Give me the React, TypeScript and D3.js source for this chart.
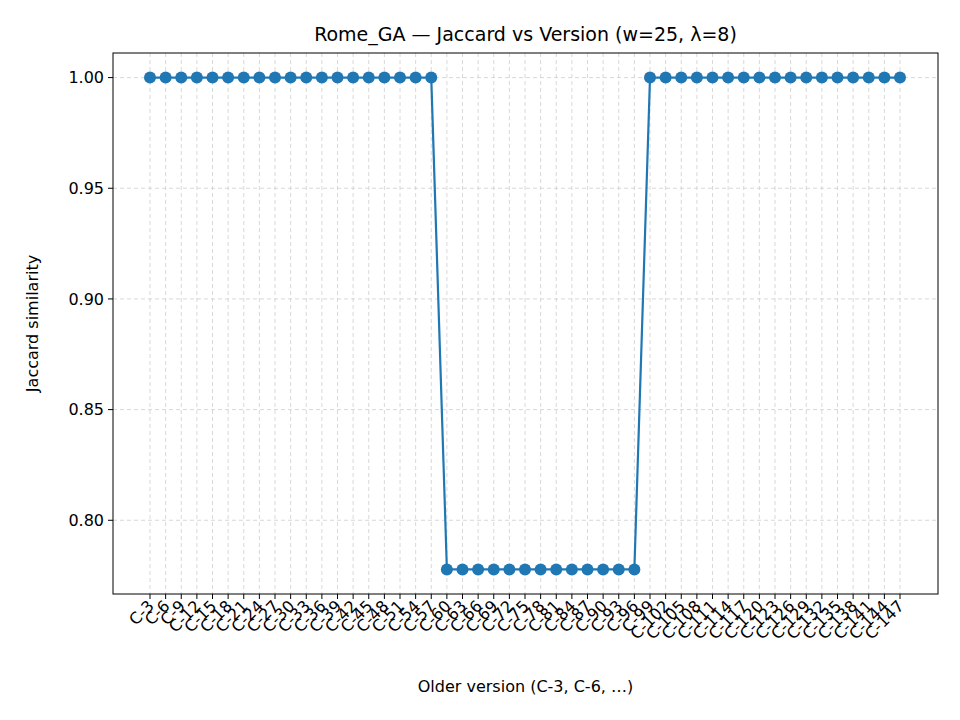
import * as d3 from 'd3';

const versions: string[] = d3.range(3, 148, 3).map((v) => `C-${v}`);
const jaccard: number[] = [
  1, 1, 1, 1, 1, 1, 1, 1, 1, 1, 1, 1, 1, 1, 1, 1, 1, 1, 1,
  0.7778, 0.7778, 0.7778, 0.7778, 0.7778, 0.7778, 0.7778, 0.7778, 0.7778, 0.7778, 0.7778, 0.7778, 0.7778,
  1, 1, 1, 1, 1, 1, 1, 1, 1, 1, 1, 1, 1, 1, 1, 1, 1
];
const yTicks: number[] = [0.8, 0.85, 0.9, 0.95, 1.0];

export default function App(): JSX.Element {
  const width = 960;
  const height = 720;
  const left = 113;
  const right = 938;
  const top = 53;
  const bottom = 594;
  const font = 'DejaVu Sans, sans-serif';

  const x = d3
    .scalePoint<string>()
    .domain(versions)
    .range([150, 900]);
  const lo = d3.min(jaccard) as number;
  const hi = d3.max(jaccard) as number;
  const pad = (hi - lo) * 0.05;
  const y = d3.scaleLinear().domain([lo - pad, hi + pad]).range([bottom, top]);

  const line = d3
    .line<number>()
    .x((_, i) => x(versions[i]) as number)
    .y((d) => y(d));

  return (
    <svg width={width} height={height} style={{ display: 'block', margin: -8 }} fontFamily={font}>
      <rect width={width} height={height} fill="white" />
      <g stroke="#b0b0b0" strokeDasharray="4,3" strokeWidth={0.8} opacity={0.6}>
        {versions.map((v) => (
          <line key={v} x1={x(v)} x2={x(v)} y1={top} y2={bottom} />
        ))}
        {yTicks.map((t) => (
          <line key={t} x1={left} x2={right} y1={y(t)} y2={y(t)} />
        ))}
      </g>
      <path d={line(jaccard) as string} fill="none" stroke="#1f77b4" strokeWidth={2.2} />
      {jaccard.map((d, i) => (
        <circle key={i} cx={x(versions[i])} cy={y(d)} r={6} fill="#1f77b4" />
      ))}
      <rect x={left} y={top} width={right - left} height={bottom - top} fill="none" stroke="black" strokeWidth={1} />
      {yTicks.map((t) => (
        <g key={t} transform={`translate(${left},${y(t)})`}>
          <line x2={-5} stroke="black" />
          <text x={-9} dy="0.35em" textAnchor="end" fontSize={16}>
            {t.toFixed(2)}
          </text>
        </g>
      ))}
      {versions.map((v) => (
        <g key={v} transform={`translate(${x(v)},${bottom})`}>
          <line y2={5} stroke="black" />
          <text transform="translate(5,13) rotate(-45)" textAnchor="end" fontSize={16}>
            {v}
          </text>
        </g>
      ))}
      <text x={(left + right) / 2} y={41} textAnchor="middle" fontSize={19}>
        Rome_GA — Jaccard vs Version (w=25, λ=8)
      </text>
      <text x={(left + right) / 2} y={692} textAnchor="middle" fontSize={16}>
        Older version (C-3, C-6, …)
      </text>
      <text transform={`translate(38,${(top + bottom) / 2}) rotate(-90)`} textAnchor="middle" fontSize={16}>
        Jaccard similarity
      </text>
    </svg>
  );
}
